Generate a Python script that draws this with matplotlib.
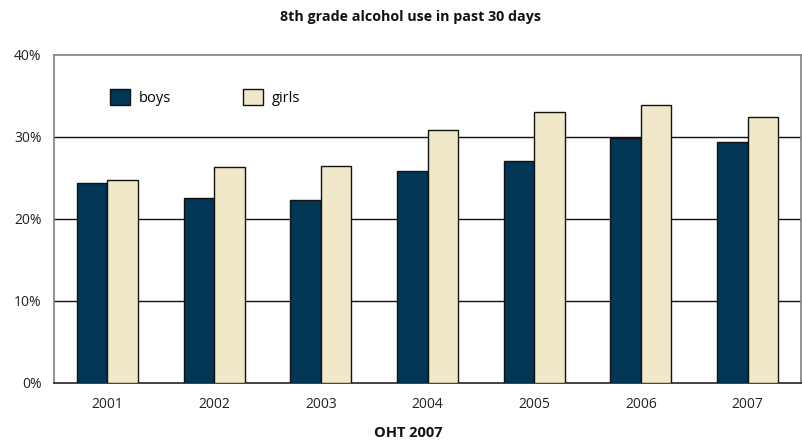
import matplotlib
matplotlib.use('Agg')
import numpy as np
import matplotlib.pyplot as plt
from matplotlib.ticker import PercentFormatter

years = ['2001', '2002', '2003', '2004', '2005', '2006', '2007']
boys = [24.4, 22.5, 22.3, 25.8, 27.1, 29.9, 29.4]
girls = [24.8, 26.3, 26.5, 30.9, 33.0, 33.9, 32.4]

plt.rcParams['font.family'] = ['Open Sans', 'DejaVu Sans']

fig = plt.figure(figsize=(8.03, 4.41), dpi=100)
ax = fig.add_axes([54 / 803, 58 / 441, 747 / 803, 328 / 441])

x = np.arange(len(years))
w = 0.286
ax.bar(x - w / 2, boys, w, color='#023656', edgecolor='#111111', linewidth=1, label='boys', zorder=3)
ax.bar(x + w / 2, girls, w, color='#F1E7C9', edgecolor='#111111', linewidth=1, label='girls', zorder=3)

ax.set_xlim(-0.5, len(years) - 0.5)
ax.set_ylim(0, 40)
ax.set_yticks([0, 10, 20, 30, 40])
ax.yaxis.set_major_formatter(PercentFormatter(decimals=0))
ax.set_xticks(x)
ax.set_xticklabels(years)
ax.tick_params(axis='both', length=0, labelsize=10, colors='#222222')
ax.tick_params(axis='y', pad=9)
ax.tick_params(axis='x', pad=10)

# grid lines sit behind the bars
for v in [10, 20, 30]:
    ax.axhline(v, color='#111111', linewidth=1, zorder=1)

for s in ['top', 'left', 'right']:
    ax.spines[s].set_color('#808080')
    ax.spines[s].set_linewidth(1.2)
ax.spines['bottom'].set_color('#222222')
ax.spines['bottom'].set_linewidth(1.2)

ax.legend(loc='center left', bbox_to_anchor=(0.075, 0.870), ncol=2, frameon=False,
          fontsize=10.5, handlelength=1.38, handleheight=1.3, handletextpad=0.6,
          columnspacing=4.9, borderpad=0, borderaxespad=0)

fig.text(410 / 803, 1 - 17 / 441, '8th grade alcohol use in past 30 days',
         ha='center', va='center', fontsize=10.3, fontweight='bold', color='#111111')
fig.text(408 / 803, 1 - 433 / 441, 'OHT 2007',
         ha='center', va='center', fontsize=10.5, fontweight='bold', color='#111111')

fig.savefig('out.png', dpi=100)
